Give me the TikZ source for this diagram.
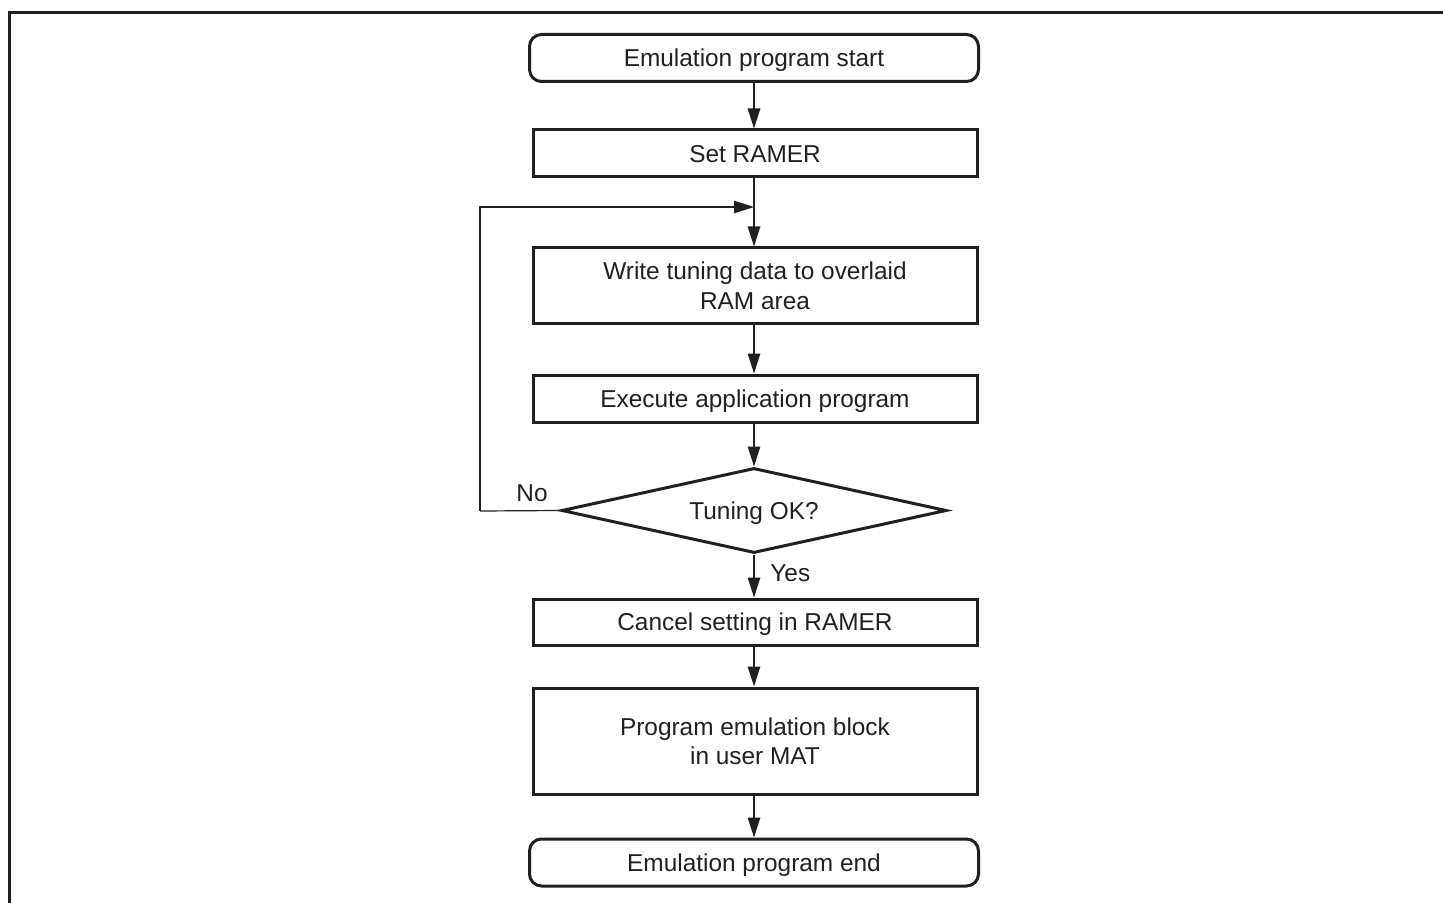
\documentclass[tikz,border=0pt]{standalone}
\usepackage{fontspec}
\setmainfont{Liberation Sans}
\usetikzlibrary{shapes.geometric,arrows.meta}
\definecolor{ink}{RGB}{35,31,32}
\begin{document}
\begin{tikzpicture}[x=0.5pt,y=-0.5pt,
  every node/.style={text=ink,font=\fontsize{12.2}{14.8}\selectfont,text depth=0pt},
  boxstyle/.style={draw=ink,line width=1.5pt,minimum width=222pt,align=center,inner sep=0pt},
  termstyle/.style={boxstyle,rounded corners=6pt,minimum width=224.5pt,minimum height=23.5pt},
  decstyle/.style={draw=ink,line width=1.5pt,diamond,aspect=4.53,minimum width=192.5pt,minimum height=42.5pt,inner sep=0pt},
  flow/.style={draw=ink,line width=0.8pt,-{Triangle[length=10pt,width=6.2pt]}},
  backline/.style={draw=ink,line width=0.6pt},
  lbl/.style={inner sep=0pt}]
\useasboundingbox (0,0) rectangle (1443,903);
% frame (top and left sides)
\draw[ink,line width=1.5pt] (1443,12.5) -- (9.5,12.5) -- (9.5,903);
% nodes
\node[termstyle] (start) at (754,58) {Emulation program start};
\node[boxstyle,minimum height=23.5pt] (set) at (755,153.5) {Set RAMER};
\node[boxstyle,minimum height=37.5pt] (write) at (755,285.5) {Write tuning data to overlaid\\RAM area};
\node[boxstyle,minimum height=23.5pt] (exec) at (755,398.5) {Execute application program};
\node[decstyle] (dec) at (754,510.5) {Tuning OK?};
\node[boxstyle,minimum height=23pt] (cancel) at (755,622) {Cancel setting in RAMER};
\node[boxstyle,minimum height=53pt] (prog) at (755,741) {Program emulation block\\in user MAT};
\node[termstyle] (end) at (754,862.5) {Emulation program end};
% loop coordinates
\coordinate (loopin) at (754,207);
\coordinate (loopcorner) at (480,511);
% connectors
\draw[flow] (start.south) -- (start.south |- set.north);
\draw[backline] (start.south |- set.south) -- (loopin);
\draw[flow] (loopin) -- (start.south |- write.north);
\draw[flow] (start.south |- write.south) -- (start.south |- exec.north);
\draw[flow] (start.south |- exec.south) -- (dec.north);
\draw[flow] (dec.south) -- (start.south |- cancel.north);
\draw[flow] (start.south |- cancel.south) -- (start.south |- prog.north);
\draw[flow] (start.south |- prog.south) -- (end.north);
\draw[backline] (dec.west) -- (loopcorner);
\draw[flow,line width=0.6pt] (loopcorner) |- (loopin);
% labels
\node[lbl] (no) at (532,493) {No};
\node[lbl,anchor=west] (yes) at (770,573) {Yes};
\end{tikzpicture}
\end{document}
